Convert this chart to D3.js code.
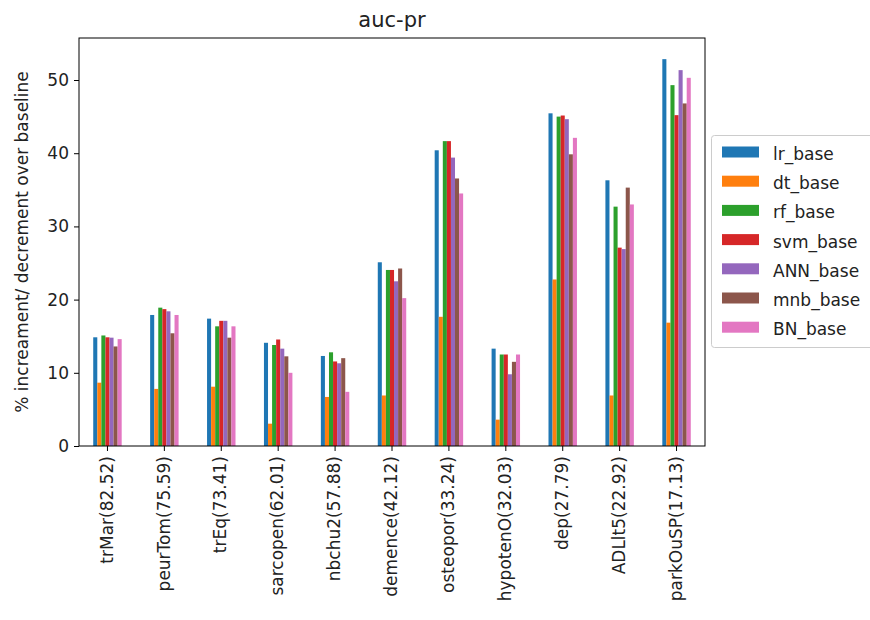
<!DOCTYPE html>
<html>
<head>
<meta charset="utf-8">
<script src="https://cdn.jsdelivr.net/npm/d3@7"></script>
<style>
  html, body { margin: 0; padding: 0; background: #fff; }
  svg { display: block; font-family: "DejaVu Sans", sans-serif; }
</style>
</head>
<body>
<svg id="chart" width="870" height="620"></svg>
<script>
// Datasets (baseline score shown in the label)
const categories = ["trMar(82.52)", "peurTom(75.59)", "trEq(73.41)", "sarcopen(62.01)", "nbchu2(57.88)",
  "demence(42.12)", "osteopor(33.24)", "hypotenO(32.03)", "dep(27.79)", "ADLlt5(22.92)", "parkOuSP(17.13)"];

const seriesNames = ["lr_base", "dt_base", "rf_base", "svm_base", "ANN_base", "mnb_base", "BN_base"];

// % increment over baseline, one array per model
const lr_base  = [14.85, 17.9, 17.4, 14.1, 12.3, 25.1, 40.4, 13.3, 45.45, 36.3, 52.85];
const dt_base  = [8.65, 7.8, 8.1, 3.05, 6.7, 6.9, 17.65, 3.6, 22.75, 6.9, 16.85];
const rf_base  = [15.1, 18.9, 16.35, 13.8, 12.8, 24.05, 41.65, 12.5, 45.0, 32.7, 49.3];
const svm_base = [14.85, 18.7, 17.1, 14.55, 11.55, 24.05, 41.65, 12.5, 45.15, 27.1, 45.2];
const ANN_base = [14.8, 18.4, 17.1, 13.3, 11.3, 22.5, 39.4, 9.8, 44.65, 26.9, 51.35];
const mnb_base = [13.6, 15.4, 14.8, 12.25, 12.0, 24.25, 36.55, 11.5, 39.85, 35.3, 46.8];
const BN_base  = [14.6, 17.9, 16.35, 10.0, 7.4, 20.2, 34.5, 12.5, 42.1, 33.0, 50.3];

const seriesValues = [lr_base, dt_base, rf_base, svm_base, ANN_base, mnb_base, BN_base];
const colors = ["#1f77b4", "#ff7f0e", "#2ca02c", "#d62728", "#9467bd", "#8c564b", "#e377c2"];
const yTicks = [0, 10, 20, 30, 40, 50];
const yMax = 55.74;

const svg = d3.select("#chart");
const plot = { left: 79, right: 705, top: 38, bottom: 446 };
const fontSize = 17;

// Category positions: each group occupies half of its step
const x = d3.scaleBand()
  .domain(categories)
  .range([plot.left, plot.right])
  .paddingInner(0.5)
  .paddingOuter(0.25);

const xInner = d3.scaleBand()
  .domain(seriesNames)
  .range([0, x.bandwidth()]);

const y = d3.scaleLinear()
  .domain([0, yMax])
  .range([plot.bottom, plot.top]);

// Bars
const rows = categories.map((c, i) => ({
  cat: c,
  vals: seriesNames.map((s, j) => ({ name: s, value: seriesValues[j][i], color: colors[j] }))
}));

const groups = svg.append("g").selectAll("g")
  .data(rows)
  .join("g")
  .attr("transform", d => `translate(${x(d.cat)},0)`);

groups.selectAll("rect")
  .data(d => d.vals)
  .join("rect")
  .attr("x", d => xInner(d.name))
  .attr("width", xInner.bandwidth())
  .attr("y", d => y(d.value))
  .attr("height", d => y(0) - y(d.value))
  .attr("fill", d => d.color);

// Frame
svg.append("rect")
  .attr("x", plot.left).attr("y", plot.top)
  .attr("width", plot.right - plot.left)
  .attr("height", plot.bottom - plot.top)
  .attr("fill", "none").attr("stroke", "#000").attr("stroke-width", 1);

// X axis
const xAxis = svg.append("g")
  .attr("transform", `translate(0,${plot.bottom})`)
  .call(d3.axisBottom(x).tickSize(5).tickSizeOuter(0).tickPadding(6));
xAxis.select(".domain").remove();
xAxis.selectAll("line").attr("stroke", "#000");
xAxis.selectAll("text")
  .attr("font-size", fontSize)
  .attr("font-family", "DejaVu Sans, sans-serif")
  .attr("fill", "#222")
  .attr("transform", "rotate(-90)")
  .attr("text-anchor", "end")
  .attr("dx", "-10")
  .attr("dy", "-0.05em")
  .attr("x", 0)
  .attr("y", 0)
  .style("dominant-baseline", "central");

// Y axis
const yAxis = svg.append("g")
  .attr("transform", `translate(${plot.left},0)`)
  .call(d3.axisLeft(y).tickValues(yTicks).tickFormat(d3.format("d")).tickSize(5).tickSizeOuter(0).tickPadding(5));
yAxis.select(".domain").remove();
yAxis.selectAll("line").attr("stroke", "#000");
yAxis.selectAll("text")
  .attr("font-size", fontSize)
  .attr("font-family", "DejaVu Sans, sans-serif")
  .attr("fill", "#222");

// Y axis title
svg.append("text")
  .attr("transform", `translate(28,${(plot.top + plot.bottom) / 2}) rotate(-90)`)
  .attr("text-anchor", "middle")
  .attr("font-size", fontSize)
  .attr("fill", "#222")
  .text("% increament/ decrement over baseline");

// Chart title
svg.append("text")
  .attr("x", (plot.left + plot.right) / 2)
  .attr("y", 27)
  .attr("text-anchor", "middle")
  .attr("font-size", 21)
  .attr("fill", "#222")
  .text("auc-pr");

// Legend
const legend = svg.append("g").attr("transform", "translate(711,135)");
legend.append("rect")
  .attr("x", 0.5).attr("y", 0.5)
  .attr("width", 175).attr("height", 212)
  .attr("rx", 3)
  .attr("fill", "#fff").attr("fill-opacity", 0.8)
  .attr("stroke", "#cccccc");

const items = legend.selectAll("g.item")
  .data(seriesNames)
  .join("g")
  .attr("class", "item")
  .attr("transform", (d, i) => `translate(0,${17 + i * 29.2})`);

items.append("rect")
  .attr("x", 11).attr("y", -5.5)
  .attr("width", 37).attr("height", 11)
  .attr("fill", (d, i) => colors[i]);

items.append("text")
  .attr("x", 62).attr("y", 2)
  .attr("dy", "0.35em")
  .attr("font-size", fontSize)
  .attr("fill", "#222")
  .text(d => d);
</script>
</body>
</html>
